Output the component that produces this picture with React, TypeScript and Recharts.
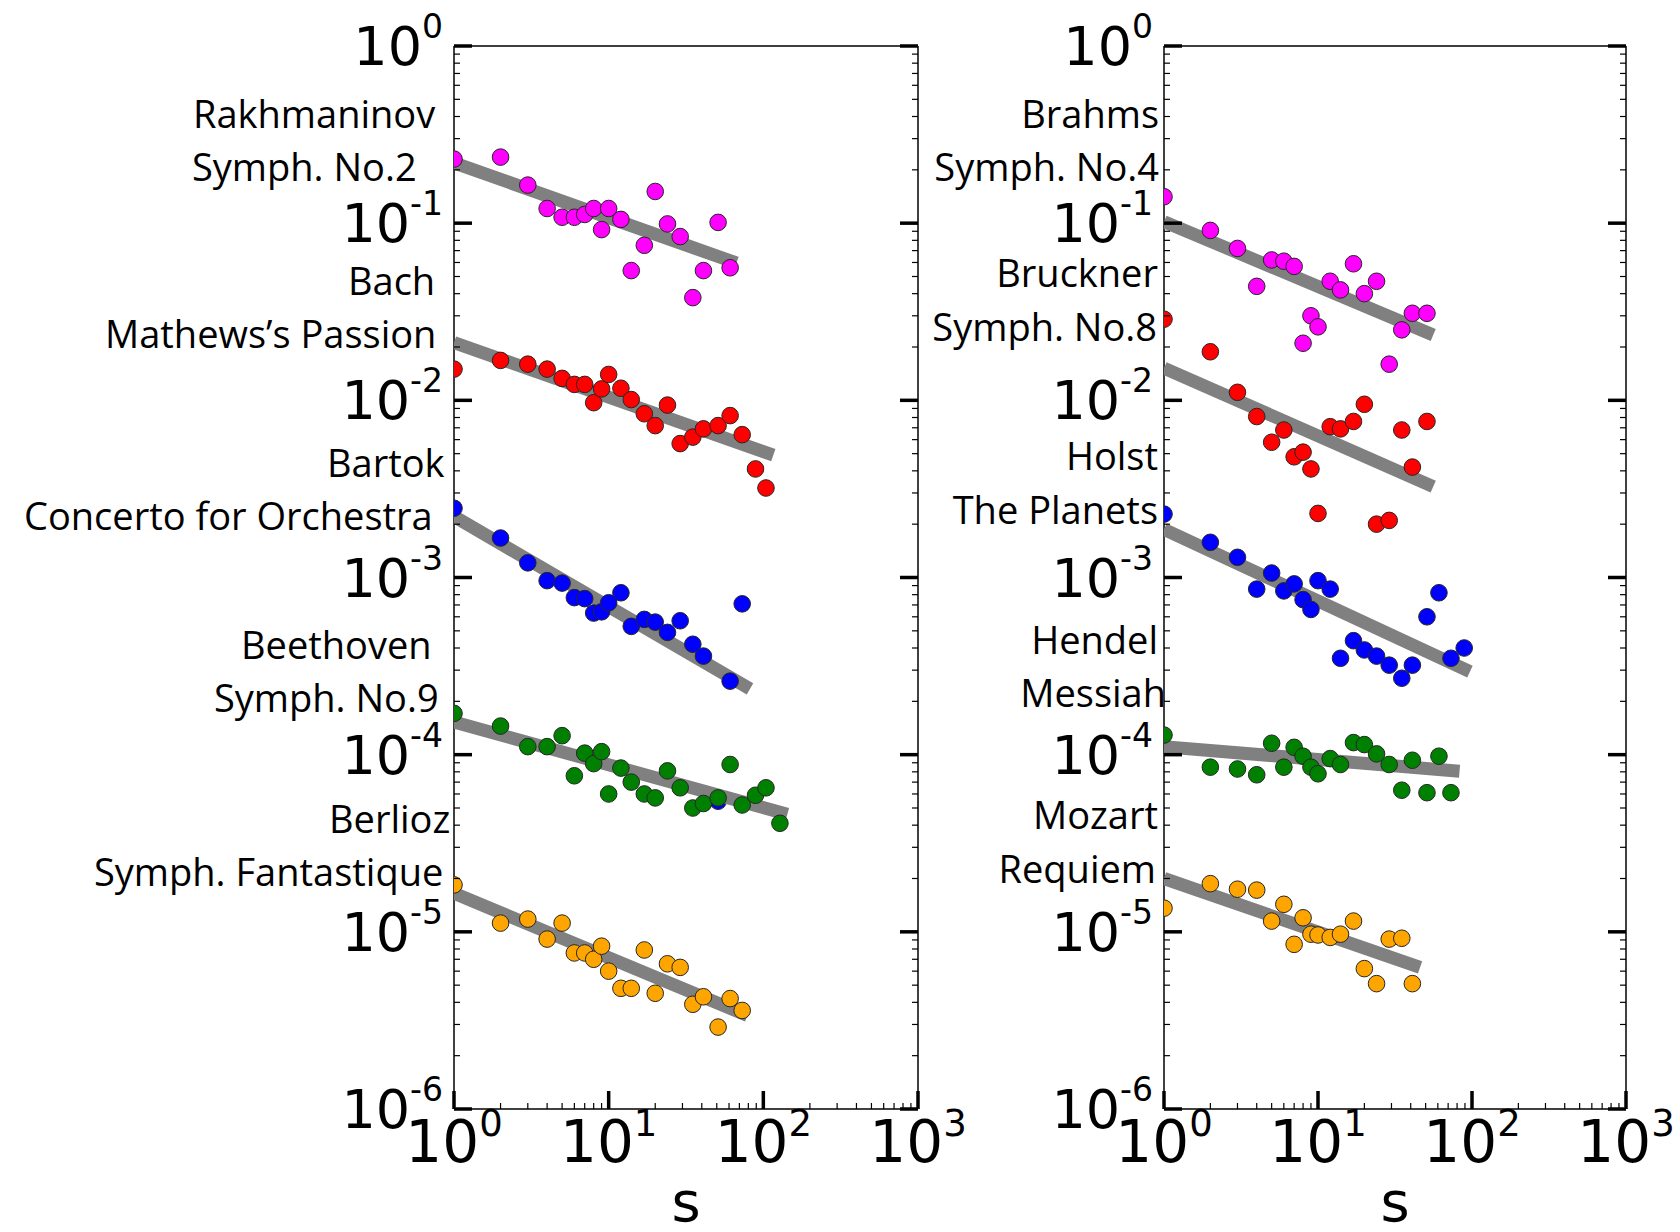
import { ScatterChart, Scatter, XAxis, YAxis } from 'recharts';

// Rank-frequency of note patterns, two panels of five pieces each (log-log)

const xTickValues = [1, 2, 3, 4, 5, 6, 7, 8, 9, 10, 20, 30, 40, 50, 60, 70, 80, 90, 100, 200, 300, 400, 500, 600, 700, 800, 900, 1000];
const yDecades = [1e-6, 1e-5, 1e-4, 1e-3, 1e-2, 1e-1];
const yTickValues = [...yDecades.flatMap((d) => [1, 2, 3, 4, 5, 6, 7, 8, 9].map((m) => m * d)), 1];

// ---- left panel ----
const sRakh = [1, 2, 3, 4, 5, 6, 7, 8, 9, 10, 12, 14, 17, 20, 24, 29, 35, 41, 51, 61];
const pRakh = [0.23, 0.236, 0.164, 0.121, 0.108, 0.108, 0.112, 0.121, 0.092, 0.121, 0.105, 0.054, 0.075, 0.151, 0.099, 0.084, 0.038, 0.054, 0.101, 0.056];
const fitRakh = { s: [1, 67], p: [0.219, 0.0596] };

const sBach = [1, 2, 3, 4, 5, 6, 7, 8, 9, 10, 12, 14, 17, 20, 24, 29, 35, 41, 51, 61, 73, 89, 104];
const pBach = [0.015, 0.0168, 0.016, 0.015, 0.0133, 0.0123, 0.0123, 0.0097, 0.0116, 0.014, 0.0117, 0.0101, 0.0084, 0.0072, 0.0094, 0.0057, 0.0062, 0.0069, 0.0072, 0.0082, 0.0064, 0.0041, 0.0032];
const fitBach = { s: [1, 116], p: [0.0212, 0.0049] };

const sBartok = [1, 2, 3, 4, 5, 6, 7, 8, 9, 10, 12, 14, 17, 20, 24, 29, 35, 41, 51, 61, 73];
const pBartok = [0.00246, 0.00167, 0.00121, 0.00096, 0.00093, 0.00077, 0.00076, 0.00063, 0.00064, 0.00072, 0.00082, 0.00053, 0.00058, 0.00056, 0.00049, 0.00057, 0.00042, 0.00036, 0.0000546, 0.00026, 0.00071];
const fitBartok = { s: [1, 82], p: [0.00221, 0.000235] };

const sBeet = [1, 2, 3, 4, 5, 6, 7, 8, 9, 10, 12, 14, 17, 20, 24, 29, 35, 41, 51, 61, 73, 89, 104, 128];
const pBeet = [1.71e-4, 1.45e-4, 1.11e-4, 1.11e-4, 1.28e-4, 7.6e-5, 1.02e-4, 8.9e-5, 1.04e-4, 6.0e-5, 8.4e-5, 7.0e-5, 6.0e-5, 5.7e-5, 8.1e-5, 6.5e-5, 5.0e-5, 5.3e-5, 5.7e-5, 8.8e-5, 5.2e-5, 5.9e-5, 6.5e-5, 4.1e-5];
const fitBeet = { s: [1, 143], p: [1.53e-4, 4.61e-5] };

const sBerlioz = [1, 2, 3, 4, 5, 6, 7, 8, 9, 10, 12, 14, 17, 20, 24, 29, 35, 41, 51, 61, 73];
const pBerlioz = [1.84e-5, 1.12e-5, 1.18e-5, 9.1e-6, 1.12e-5, 7.6e-6, 7.6e-6, 7.0e-6, 8.3e-6, 6.0e-6, 4.8e-6, 4.8e-6, 7.9e-6, 4.5e-6, 6.6e-6, 6.3e-6, 3.9e-6, 4.3e-6, 2.9e-6, 4.2e-6, 3.6e-6];
const fitBerlioz = { s: [1, 79], p: [1.65e-5, 3.37e-6] };

// ---- right panel ----
const sBrahms = [1, 2, 3, 4, 5, 6, 7, 8, 9, 10, 12, 14, 17, 20, 24, 29, 35, 41, 51];
const pBrahms = [0.141, 0.091, 0.072, 0.044, 0.062, 0.061, 0.057, 0.021, 0.03, 0.026, 0.047, 0.042, 0.059, 0.04, 0.047, 0.016, 0.025, 0.031, 0.031];
const fitBrahms = { s: [1, 56], p: [0.102, 0.0234] };

const sBruckner = [1, 2, 3, 4, 5, 6, 7, 8, 9, 10, 12, 14, 17, 20, 24, 29, 35, 41, 51];
const pBruckner = [0.0287, 0.0188, 0.0111, 0.0081, 0.0058, 0.0068, 0.0048, 0.0051, 0.0041, 0.0023, 0.0071, 0.0069, 0.0076, 0.0095, 0.002, 0.0021, 0.0068, 0.0042, 0.0076];
const fitBruckner = { s: [1, 56], p: [0.0152, 0.00326] };

const sHolst = [1, 2, 3, 4, 5, 6, 7, 8, 9, 10, 12, 14, 17, 20, 24, 29, 35, 41, 51, 61, 73, 89];
const pHolst = [0.00228, 0.00158, 0.0013, 0.00086, 0.00106, 0.00084, 0.00092, 0.00075, 0.00066, 0.00096, 0.00086, 0.00035, 0.00044, 0.00039, 0.00036, 0.00032, 0.00027, 0.00032, 0.0006, 0.00082, 0.00035, 0.0004];
const fitHolst = { s: [1, 97], p: [0.00187, 0.000294] };

const sHendel = [1, 2, 3, 4, 5, 6, 7, 8, 9, 10, 12, 14, 17, 20, 24, 29, 35, 41, 51, 61, 73];
const pHendel = [1.29e-4, 8.5e-5, 8.3e-5, 7.7e-5, 1.16e-4, 8.5e-5, 1.1e-4, 9.8e-5, 8.5e-5, 7.8e-5, 9.5e-5, 8.8e-5, 1.17e-4, 1.14e-4, 1.01e-4, 8.8e-5, 6.3e-5, 9.3e-5, 6.1e-5, 9.8e-5, 6.1e-5];
const fitHendel = { s: [1, 83], p: [1.11e-4, 8.06e-5] };

const sMozart = [1, 2, 3, 4, 5, 6, 7, 8, 9, 10, 12, 14, 17, 20, 24, 29, 35, 41];
const pMozart = [1.36e-5, 1.87e-5, 1.74e-5, 1.72e-5, 1.15e-5, 1.43e-5, 8.5e-6, 1.2e-5, 9.7e-6, 9.6e-6, 9.3e-6, 9.7e-6, 1.15e-5, 6.2e-6, 5.1e-6, 9.1e-6, 9.2e-6, 5.1e-6];
const fitMozart = { s: [1, 46], p: [2.0e-5, 6.3e-6] };

const colors = ['#ff00ff', '#ff0000', '#0000ff', '#008000', '#ffa500'];

const zip = (s: number[], p: number[]) => s.map((v, i) => ({ s: v, p: p[i] }));

const leftSeries = [
  { s: sRakh, p: pRakh, fit: fitRakh },
  { s: sBach, p: pBach, fit: fitBach },
  { s: sBartok, p: pBartok, fit: fitBartok },
  { s: sBeet, p: pBeet, fit: fitBeet },
  { s: sBerlioz, p: pBerlioz, fit: fitBerlioz },
];
const rightSeries = [
  { s: sBrahms, p: pBrahms, fit: fitBrahms },
  { s: sBruckner, p: pBruckner, fit: fitBruckner },
  { s: sHolst, p: pHolst, fit: fitHolst },
  { s: sHendel, p: pHendel, fit: fitHendel },
  { s: sMozart, p: pMozart, fit: fitMozart },
];

// piece names, placed by hand like in the original figure
const leftLabels = [
  { text: 'Rakhmaninov', x: 193, y: 128 },
  { text: 'Symph. No.2', x: 192, y: 181 },
  { text: 'Bach', x: 348, y: 295 },
  { text: 'Mathews’s Passion', x: 105, y: 348 },
  { text: 'Bartok', x: 327, y: 477 },
  { text: 'Concerto for Orchestra', x: 24, y: 530 },
  { text: 'Beethoven', x: 241, y: 659 },
  { text: 'Symph. No.9', x: 214, y: 712 },
  { text: 'Berlioz', x: 329, y: 833 },
  { text: 'Symph. Fantastique', x: 94, y: 886 },
];
const rightLabels = [
  { text: 'Brahms', x: 1159, y: 128 },
  { text: 'Symph. No.4', x: 1159, y: 181 },
  { text: 'Bruckner', x: 1158, y: 287 },
  { text: 'Symph. No.8', x: 1157, y: 341 },
  { text: 'Holst', x: 1158, y: 470 },
  { text: 'The Planets', x: 1158, y: 524 },
  { text: 'Hendel', x: 1158, y: 654 },
  { text: 'Messiah', x: 1166, y: 707 },
  { text: 'Mozart', x: 1158, y: 829 },
  { text: 'Requiem', x: 1156, y: 883 },
];

const W = 1680;
const H = 1232;
const TICK_FONT = 'DejaVu Sans, sans-serif';

const isMajor = (v: number) => Math.abs(Math.log10(v) - Math.round(Math.log10(v))) < 1e-6;

const LeftTick = (props: any) => {
  const { x, y, payload } = props;
  const major = isMajor(payload.value);
  return (
    <g>
      <line x1={x} y1={y} x2={x + (major ? 18 : 6)} y2={y} stroke="#000" strokeWidth={major ? 3.5 : 1.2} />
      {major && (
        <text x={x - 11} y={y + 19} textAnchor="end" fontFamily={TICK_FONT} fontSize={54} fill="#000">
          10
          <tspan dy={-27} fontSize={33}>{Math.round(Math.log10(payload.value))}</tspan>
        </text>
      )}
    </g>
  );
};

const RightTick = (props: any) => {
  const { x, y, payload } = props;
  const major = isMajor(payload.value);
  return <line x1={x} y1={y} x2={x - (major ? 18 : 6)} y2={y} stroke="#000" strokeWidth={major ? 3.5 : 1.2} />;
};

const BottomTick = (props: any) => {
  const { x, y, payload } = props;
  const major = isMajor(payload.value);
  return (
    <g>
      <line x1={x} y1={y} x2={x} y2={y - (major ? 18 : 6)} stroke="#000" strokeWidth={major ? 3.5 : 1.2} />
      {major && (
        <text x={x} y={y + 53} textAnchor="middle" fontFamily={TICK_FONT} fontSize={58} fill="#000">
          10
          <tspan dy={-26} fontSize={37}>{Math.round(Math.log10(payload.value))}</tspan>
        </text>
      )}
    </g>
  );
};

interface PanelProps {
  series: typeof leftSeries;
  plotLeft: number;
  plotRight: number;
}

const Panel = ({ series, plotLeft, plotRight }: PanelProps) => {
  const margin = { top: 45, bottom: H - 1109 - 30, left: plotLeft - 60, right: W - plotRight - 10 };
  return (
    <div style={{ position: 'absolute', left: 0, top: 0 }}>
      <ScatterChart width={W} height={H} margin={margin}>
        <XAxis
          xAxisId="b"
          dataKey="s"
          type="number"
          scale="log"
          domain={[1, 1000]}
          allowDataOverflow
          ticks={xTickValues}
          interval={0}
          height={30}
          tickSize={0}
          tickMargin={0}
          tickLine={false}
          axisLine={{ stroke: '#000', strokeWidth: 1.5 }}
          tick={<BottomTick />}
        />
        <XAxis
          xAxisId="t"
          orientation="top"
          dataKey="s"
          type="number"
          scale="log"
          domain={[1, 1000]}
          allowDataOverflow
          height={1}
          tick={false}
          tickLine={false}
          axisLine={{ stroke: '#000', strokeWidth: 1.5 }}
        />
        <YAxis
          yAxisId="l"
          dataKey="p"
          type="number"
          scale="log"
          domain={[1e-6, 1]}
          allowDataOverflow
          ticks={yTickValues}
          interval={0}
          width={60}
          tickSize={0}
          tickMargin={0}
          tickLine={false}
          axisLine={{ stroke: '#000', strokeWidth: 1.5 }}
          tick={<LeftTick />}
        />
        <YAxis
          yAxisId="r"
          orientation="right"
          dataKey="p"
          type="number"
          scale="log"
          domain={[1e-6, 1]}
          allowDataOverflow
          ticks={yTickValues}
          interval={0}
          width={10}
          tickSize={0}
          tickMargin={0}
          tickLine={false}
          axisLine={{ stroke: '#000', strokeWidth: 1.5 }}
          tick={<RightTick />}
        />
        {series.map((ser, i) => [
          <Scatter
            key={`fit${i}`}
            xAxisId="b"
            yAxisId="l"
            data={zip(ser.fit.s, ser.fit.p)}
            line={{ stroke: '#808080', strokeWidth: 13, strokeLinecap: 'butt' }}
            lineType="joint"
            shape={() => <g />}
            isAnimationActive={false}
          />,
          <Scatter
            key={`pts${i}`}
            xAxisId="b"
            yAxisId="l"
            data={zip(ser.s, ser.p)}
            shape={(pr: any) => (
              <circle cx={pr.cx} cy={pr.cy} r={8.3} fill={colors[i]} stroke="#262626" strokeWidth={1} />
            )}
            isAnimationActive={false}
          />,
        ])}
      </ScatterChart>
    </div>
  );
};

export default function App() {
  return (
    <div style={{ position: 'absolute', left: 0, top: 0, width: W, height: H, background: '#fff', overflow: 'hidden' }}>
      <Panel series={leftSeries} plotLeft={454} plotRight={918} />
      <Panel series={rightSeries} plotLeft={1164} plotRight={1626} />
      <svg width={W} height={H} style={{ position: 'absolute', left: 0, top: 0, pointerEvents: 'none' }}>
        {leftLabels.map((l) => (
          <text key={l.text} x={l.x} y={l.y} fontFamily="Open Sans, sans-serif" fontSize={38} fill="#000">
            {l.text}
          </text>
        ))}
        {rightLabels.map((l) => (
          <text key={l.text} x={l.x} y={l.y} textAnchor="end" fontFamily="Open Sans, sans-serif" fontSize={38} fill="#000">
            {l.text}
          </text>
        ))}
        <text x={686} y={1221} textAnchor="middle" fontFamily={TICK_FONT} fontSize={56} fill="#000">s</text>
        <text x={1395} y={1221} textAnchor="middle" fontFamily={TICK_FONT} fontSize={56} fill="#000">s</text>
      </svg>
    </div>
  );
}
